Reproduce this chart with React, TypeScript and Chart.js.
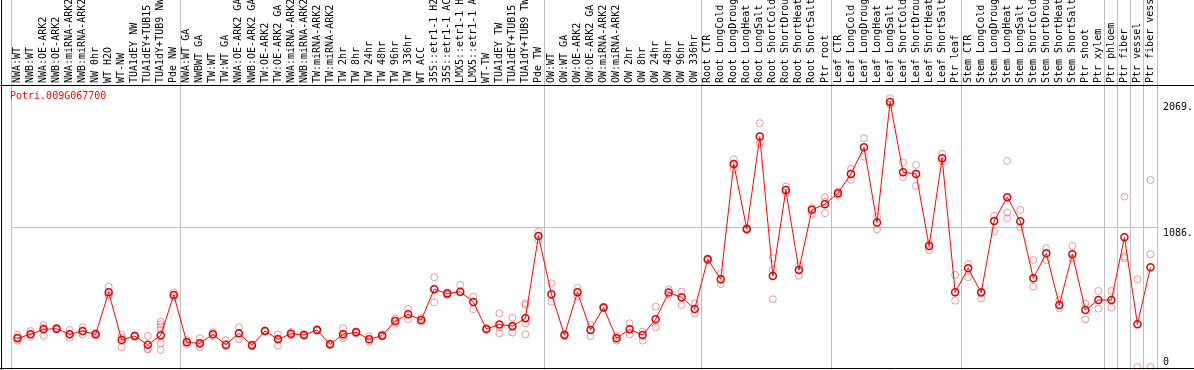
import { useEffect, useRef } from "react";
import { Chart, registerables } from "chart.js";

Chart.register(...registerables);

const geneName = "Potri.009G067700";

const categories = [
  "NWA:WT", "NWB:WT", "NWA:OE-ARK2", "NWB:OE-ARK2", "NWA:miRNA-ARK2", "NWB:miRNA-ARK2", "NW 0hr", "WT H2O", "WT-NW", "TUA1dEY NW", "TUA1dEY+TUB15", "TUA1dY+TUB9 NW", "Pde NW",
  "NWA:WT GA", "NWBWT GA", "TW:WT", "TW:WT GA", "NWA:OE-ARK2 GA", "NWB:OE-ARK2 GA", "TW:OE-ARK2", "TW:OE-ARK2 GA", "NWA:miRNA-ARK2", "NWB:miRNA-ARK2", "TW:miRNA-ARK2", "TW:miRNA-ARK2",
  "TW 2hr", "TW 8hr", "TW 24hr", "TW 48hr", "TW 96hr", "TW 336hr", "WT ACC", "35S::etr1-1 H2O", "35S::etr1-1 ACC", "LMX5::etr1-1 H2O", "LMX5::etr1-1 ACC", "WT-TW", "TUA1dEY TW", "TUA1dEY+TUB15", "TUA1dY+TUB9 TW", "Pde TW",
  "OW:WT", "OW:WT GA", "OW:OE-ARK2", "OW:OE-ARK2 GA", "OW:miRNA-ARK2", "OW:miRNA-ARK2", "OW 2hr", "OW 8hr", "OW 24hr", "OW 48hr", "OW 96hr", "OW 336hr",
  "Root CTR", "Root LongCold", "Root LongDrought", "Root LongHeat", "Root LongSalt", "Root ShortCold", "Root ShortDrought", "Root ShortHeat", "Root ShortSalt", "Ptr root",
  "Leaf CTR", "Leaf LongCold", "Leaf LongDrought", "Leaf LongHeat", "Leaf LongSalt", "Leaf ShortCold", "Leaf ShortDrought", "Leaf ShortHeat", "Leaf ShortSalt", "Ptr leaf",
  "Stem CTR", "Stem LongCold", "Stem LongDrought", "Stem LongHeat", "Stem LongSalt", "Stem ShortCold", "Stem ShortDrought", "Stem ShortHeat", "Stem ShortSalt", "Ptr shoot", "Ptr xylem",
  "Ptr phloem", "Ptr fiber", "Ptr vessel", "Ptr fiber vessel",
];

// index of the first category of each group (a separator line is drawn before it)
const groupStarts = [0, 13, 41, 53, 63, 73, 84, 85, 86, 87];

const meanValues = [
  224, 255, 294, 299, 255, 281, 255, 583, 211, 242, 174, 247, 563,
  193, 185, 255, 174, 263, 169, 281, 216, 260, 250, 289, 177,
  255, 271, 216, 245, 359, 411, 367, 607, 573, 588, 508, 297, 331, 320, 380, 1023,
  568, 250, 583, 289, 464, 224, 294, 250, 372, 581, 544, 453,
  841, 685, 1586, 1078, 1799, 711, 1383, 758, 1227, 1271,
  1357, 1508, 1716, 1128, 2069, 1521, 1508, 945, 1630, 583,
  771, 581, 1141, 1326, 1138, 693, 888, 484, 880, 445, 523,
  523, 1013, 333, 779,
];

const replicateValues: number[][] = [
  [250, 205, 232], [281, 237, 255], [328, 308, 245], [306, 292], [289, 227, 255], [310, 255, 278], [266, 244], [627, 557, 565], [250, 154, 228], [246, 238], [242, 138, 142], [354, 333, 315, 289, 185, 133], [583, 545],
  [210, 178], [224, 154, 178], [272, 242], [210, 160], [310, 216, 262], [176, 160], [286, 276], [255, 167, 224], [274, 246], [256, 244], [295, 283], [182, 170],
  [302, 224, 240], [278, 264], [238, 198], [254, 238], [378, 340], [453, 372], [384, 352], [701, 612, 505], [582, 565], [641, 580], [549, 451], [302, 292], [419, 263, 312], [385, 268, 310], [497, 484, 341, 255], [1057, 992],
  [654, 510], [258, 242], [617, 549], [328, 242], [470, 458], [242, 206], [341, 255], [276, 206], [471, 310], [607, 565], [588, 484], [497, 419],
  [848, 836], [732, 648], [1622, 1544], [1086, 1070], [1904, 1747], [849, 758, 529], [1409, 1362], [789, 713], [1240, 1195], [1326, 1201, 1290],
  [1372, 1344], [1547, 1461], [1786, 1643], [1174, 1076], [2099, 2050], [1596, 1482], [1578, 1414], [960, 914], [1664, 1604], [719, 518],
  [805, 701], [536, 590], [1180, 1057], [1609, 1206, 1161], [1227, 1091], [836, 627], [927, 836], [523, 458], [945, 849], [497, 372], [594, 456],
  [594, 464], [1331, 862, 849], [685, 0], [1461, 880, 0],
];

const yTickValues = [0, 1086, 2069];
const yTickLabels = ["0", "1086.", "2069."];
const yGridValues = [1086];

const FONT = "DejaVu Sans Mono";
const GRID = "#c0c0c0";

const framePlugin = {
  id: "frame",
  afterDraw(chart: any) {
    const { ctx, chartArea, width, height } = chart;
    ctx.save();
    ctx.strokeStyle = "#000";
    ctx.lineWidth = 1;
    ctx.beginPath();
    const top = Math.round(chartArea.top) + 0.5;
    const bottom = Math.floor(chartArea.bottom) - 0.5;
    ctx.moveTo(0, top);
    ctx.lineTo(width, top);
    ctx.moveTo(0, bottom);
    ctx.lineTo(width, bottom);
    ctx.moveTo(1.5, 0);
    ctx.lineTo(1.5, height);
    ctx.stroke();
    ctx.fillStyle = "#ff0000";
    ctx.font = `10px "${FONT}"`;
    ctx.textBaseline = "top";
    ctx.textAlign = "left";
    ctx.fillText(geneName, chartArea.left - 1, chartArea.top + 6);
    ctx.restore();
  },
};

export default function App() {
  const ref = useRef<HTMLCanvasElement>(null);

  useEffect(() => {
    const canvas = ref.current;
    if (!canvas) return;
    const repPoints = replicateValues.flatMap((vals, i) => vals.map((v) => ({ x: i, y: v })));

    const chart = new Chart(canvas, {
      type: "line",
      data: {
        labels: categories,
        datasets: [
          {
            label: "mean",
            data: meanValues,
            borderColor: "#ff0000",
            borderWidth: 1,
            tension: 0,
            pointRadius: 3.5,
            pointBorderWidth: 1.5,
            pointBorderColor: "#e00000",
            pointBackgroundColor: "rgba(0,0,0,0)",
          },
          {
            label: "replicates",
            data: repPoints as any,
            parsing: false,
            showLine: false,
            pointRadius: 3.5,
            pointBorderWidth: 1,
            pointBorderColor: "rgba(228,100,100,0.65)",
            pointBackgroundColor: "rgba(0,0,0,0)",
          } as any,
        ],
      },
      options: {
        animation: false,
        responsive: true,
        maintainAspectRatio: false,
        layout: { autoPadding: false, padding: { left: 11, right: 0, top: 0, bottom: 0.5 } },
        plugins: { legend: { display: false }, tooltip: { enabled: false } },
        scales: {
          x: {
            type: "category",
            position: "top",
            offset: true,
            grid: {
              offset: true,
              drawTicks: true,
              tickLength: 85,
              lineWidth: 1,
              color: (c: any) =>
                c.type !== "tick" || groupStarts.includes(c.index) ? GRID : "rgba(0,0,0,0)",
            },
            border: { display: false },
            ticks: {
              autoSkip: false,
              minRotation: 90,
              maxRotation: 90,
              padding: -83,
              labelOffset: 12,
              color: "#000",
              font: { family: FONT, size: 10 },
            },
            afterFit: (s: any) => {
              s.height = 85;
              s.paddingLeft = 0;
              s.paddingRight = 0;
            },
          },
          y: {
            position: "right",
            min: -19.5,
            max: 2202,
            afterBuildTicks: (s: any) => {
              s.ticks = yTickValues.map((v) => ({ value: v }));
            },
            grid: {
              drawTicks: false,
              color: (c: any) => (c.tick && yGridValues.includes(c.tick.value) ? GRID : "rgba(0,0,0,0)"),
            },
            border: { display: false },
            ticks: {
              padding: 6,
              color: "#000",
              font: { family: FONT, size: 10, lineHeight: 1 },
              callback: (v: any) => {
                const t = yTickLabels[yTickValues.indexOf(Number(v))];
                return Number(v) === 0 ? [t, ""] : ["", t];
              },
            },
            afterFit: (s: any) => {
              s.width = 37;
              s.paddingTop = 0;
              s.paddingBottom = 0;
            },
          },
        },
      },
      plugins: [framePlugin],
    });
    return () => chart.destroy();
  }, []);

  return (
    <div style={{ position: "absolute", left: 0, top: 0, width: 1194, height: 370, background: "#fff" }}>
      <canvas ref={ref} />
    </div>
  );
}
